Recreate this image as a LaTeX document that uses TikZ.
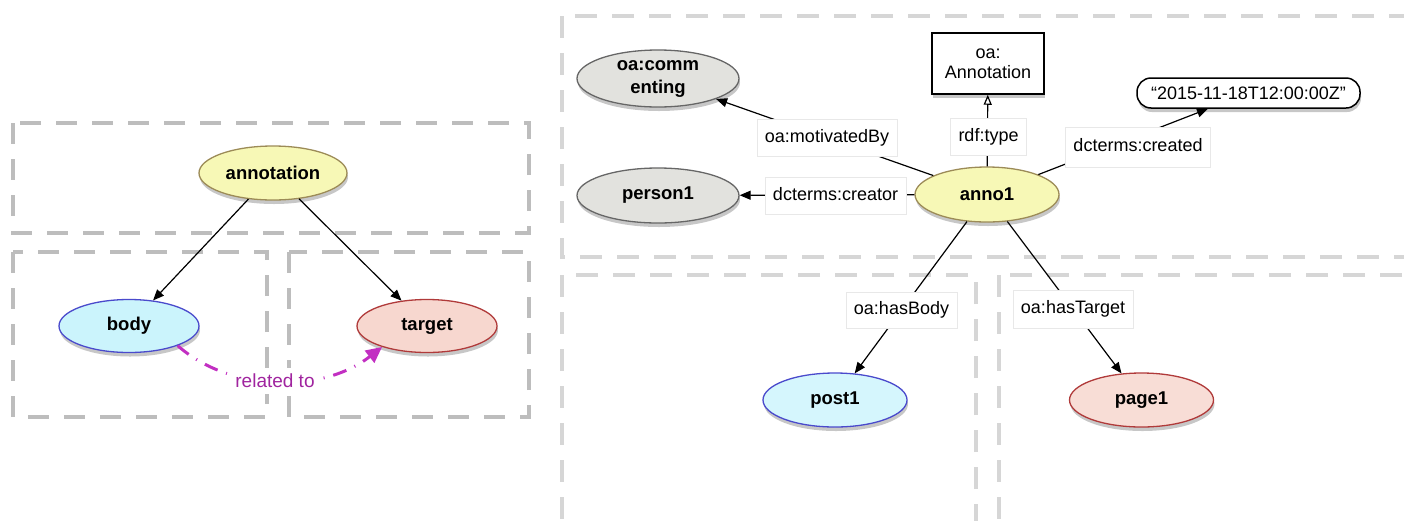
\documentclass[tikz,border=0pt]{standalone}
\usepackage{fontspec}
\setmainfont{Liberation Sans}
\usetikzlibrary{arrows.meta,shapes.geometric,shadows}

\definecolor{yfill}{HTML}{F7F8B6}
\definecolor{ydraw}{HTML}{9C8B57}
\definecolor{bfill}{HTML}{CBF4FC}
\definecolor{bdraw}{HTML}{4A4ACC}
\definecolor{tfill}{HTML}{F7D7CF}
\definecolor{tdraw}{HTML}{B03A3A}
\definecolor{gfill}{HTML}{E2E2DE}
\definecolor{gdraw}{HTML}{666666}
\definecolor{boxL}{HTML}{BDBDBD}
\definecolor{boxR}{HTML}{D6D6D6}
\definecolor{relline}{HTML}{C22FC2}
\definecolor{reltext}{HTML}{A0249F}

\begin{document}
\begin{tikzpicture}[x=1pt,y=-1pt,
  font=\fontsize{18}{21}\selectfont,
  nshadow/.style={drop shadow={shadow xshift=1pt,shadow yshift=-4pt,opacity=0.22,fill=black}},
  ellnode/.style={ellipse, draw, line width=1.3pt, inner sep=0pt, minimum width=144pt, minimum height=54pt,
     font=\fontsize{18.5}{23}\selectfont\bfseries, nshadow, align=center},
  yel/.style={ellnode, fill=yfill, draw=ydraw},
  blu/.style={ellnode, fill=bfill, draw=bdraw},
  red/.style={ellnode, fill=tfill, draw=tdraw},
  gry/.style={ellnode, fill=gfill, draw=gdraw, minimum width=162pt, minimum height=56pt},
  dboxL/.style={draw=boxL, line width=4.5pt, dash pattern=on 21pt off 15pt},
  dboxR/.style={draw=boxR, line width=4.5pt, dash pattern=on 22pt off 15pt},
  conn/.style={draw=black, line width=1.2pt, -{Triangle[length=11pt,width=9pt]}},
  plain/.style={draw=black, line width=1.2pt},
  lab/.style={rectangle, fill=white, draw=black!9, line width=0.8pt, inner xsep=8pt,
     minimum height=37pt, text height=13pt, text depth=4pt},
  rel/.style={draw=relline, line width=3pt, dash pattern=on 14pt off 9pt on 1pt off 9pt,
     -{Triangle[length=16pt,width=15pt]}}
]
\useasboundingbox (0,0) rectangle (1404,520);
\clip (0,0) rectangle (1404,520);

% ---------- left panel ----------
\draw[dboxL] (13,123) rectangle (529,233);
\draw[dboxL] (13,252) rectangle (267,417);
\draw[dboxL] (289,252) rectangle (529,417);

\node[yel, minimum width=148pt] (annotation) at (273,173) {annotation};
\node[blu, minimum width=140pt, minimum height=53pt] (body) at (129,326) {body};
\node[red, minimum width=140pt, minimum height=53pt] (target) at (427,326) {target};

\draw[conn] (annotation) -- (body);
\draw[conn] (annotation) -- (target);
\draw[rel] (body.-22) .. controls (230,392) and (322,394) .. (target.205);
\node[fill=white, text=reltext, inner xsep=6pt, inner ysep=6pt, font=\fontsize{19}{22}\selectfont] (reltxt) at (275,381) {related to};

% ---------- right panel ----------
\draw[dboxR] (562,16) rectangle (1430,257);
\draw[dboxR] (562,275) rectangle (976,545);
\draw[dboxR] (999,275) rectangle (1430,545);

\node[yel, minimum height=55pt] (anno1) at (987,194.5) {anno1};
\node[gry, minimum height=57pt, font=\fontsize{18.5}{23}\selectfont\bfseries] (comm) at (658,78.5) {oa:comm\\enting};
\node[gry, minimum height=55pt] (person1) at (658,195.5) {person1};
\node[rectangle, draw=black, fill=white, line width=1.5pt, minimum width=112pt, minimum height=61pt,
      align=center, nshadow, font=\fontsize{18}{20}\selectfont] (oaann) at (988,63.5) {oa:\\Annotation};
\node[rectangle, draw=black, fill=white, line width=1.5pt, rounded corners=14pt, minimum width=223pt,
      minimum height=30pt, inner sep=0pt, nshadow] (date) at (1248.5,93) {“2015-11-18T12:00:00Z”};
\node[blu, fill=bfill!80] (post1) at (835,400) {post1};
\node[red, fill=tfill!85] (page1) at (1141.5,400) {page1};

\draw[conn] (anno1) -- (comm);
\draw[conn] (anno1) -- (person1);
\draw[plain, -{Triangle[open,length=10pt,width=8pt]}] (anno1) -- (oaann);
\draw[conn] (anno1) -- (date);
\draw[conn] (anno1) -- (post1);
\draw[conn] (anno1) -- (page1);

\node[lab] (lmot) at (827,138) {oa:motivatedBy};
\node[lab] (lcre) at (835.5,196) {dcterms:creator};
\node[lab] (ltyp) at (988.5,136.5) {rdf:type};
\node[lab, minimum height=40pt] (ldat) at (1138,147) {dcterms:created};
\node[lab, minimum height=36pt] (lbod) at (901.5,310) {oa:hasBody};
\node[lab, minimum height=38pt] (ltar) at (1073,309) {oa:hasTarget};
\end{tikzpicture}
\end{document}
